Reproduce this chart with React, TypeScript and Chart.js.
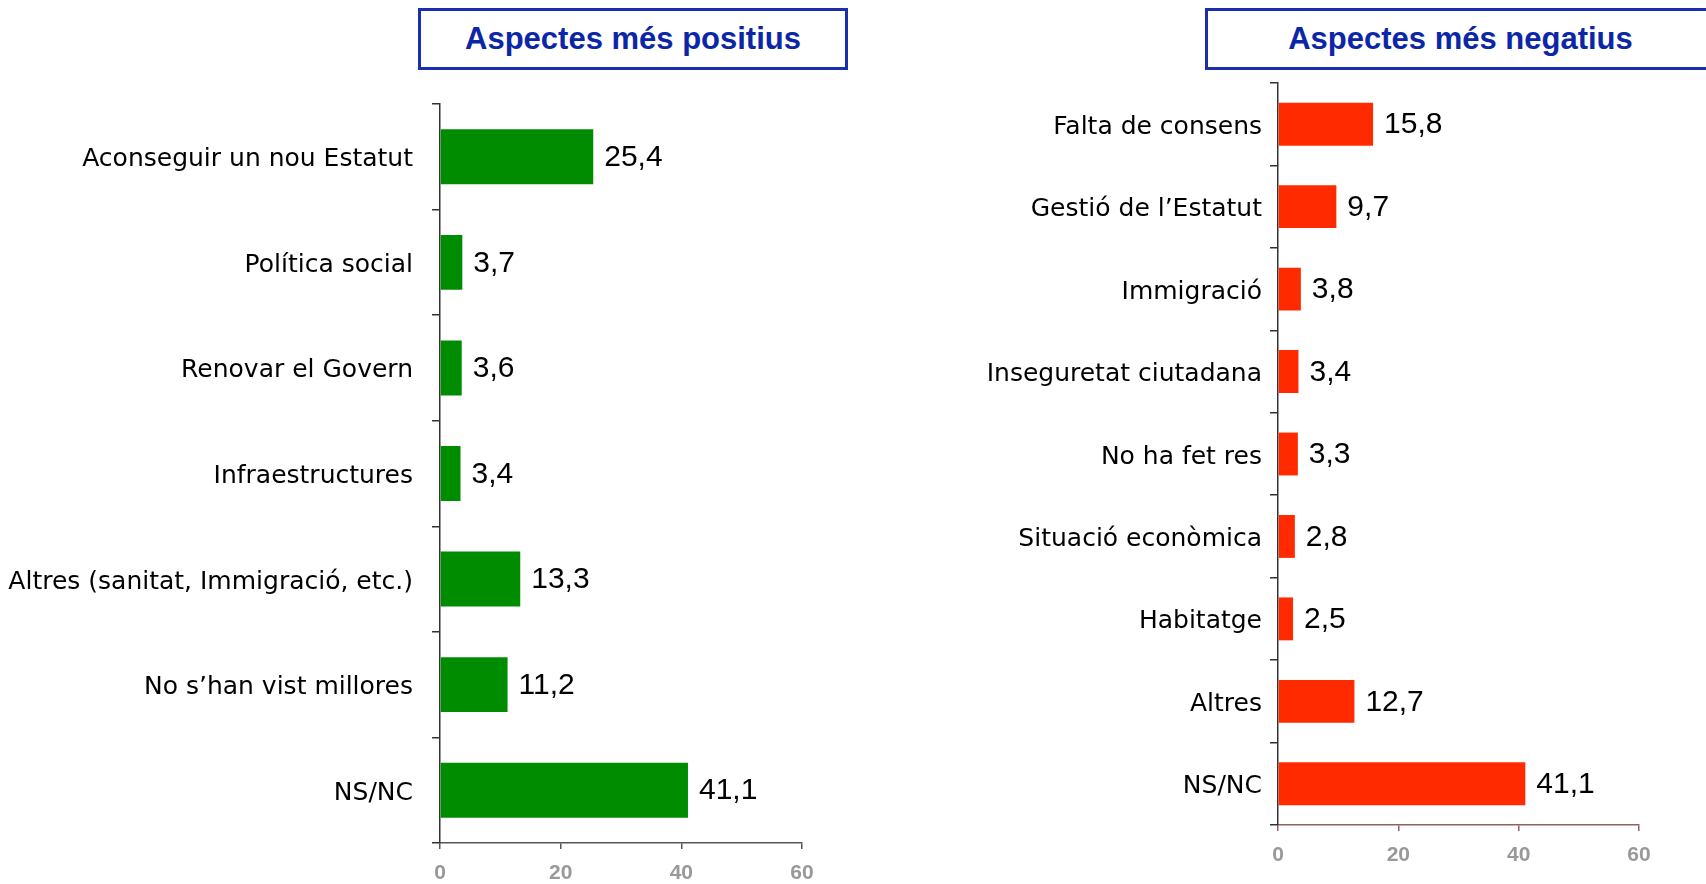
import React, { useEffect, useRef } from "react";
import { Chart, registerables } from "chart.js";

Chart.register(...registerables);

const positiveLabels = [
  "Aconseguir un nou Estatut",
  "Política social",
  "Renovar el Govern",
  "Infraestructures",
  "Altres (sanitat, Immigració, etc.)",
  "No s’han vist millores",
  "NS/NC",
];
const positiveValues = [25.4, 3.7, 3.6, 3.4, 13.3, 11.2, 41.1];

const negativeLabels = [
  "Falta de consens",
  "Gestió de l’Estatut",
  "Immigració",
  "Inseguretat ciutadana",
  "No ha fet res",
  "Situació econòmica",
  "Habitatge",
  "Altres",
  "NS/NC",
];
const negativeValues = [15.8, 9.7, 3.8, 3.4, 3.3, 2.8, 2.5, 12.7, 41.1];

const xTickMin = 0;
const xTickMax = 60;
const xTickStep = 20;

const FONT = "'Liberation Sans', Arial, Helvetica, sans-serif";
const LABEL_FONT = "'DejaVu Sans', 'Liberation Sans', sans-serif";

const valuePlugin = {
  id: "values",
  afterDatasetsDraw(chart: any) {
    const ctx = chart.ctx;
    ctx.save();
    ctx.font = `30px ${FONT}`;
    ctx.fillStyle = "#000";
    ctx.textAlign = "left";
    ctx.textBaseline = "middle";
    chart.data.datasets.forEach((ds: any, di: number) => {
      const meta = chart.getDatasetMeta(di);
      meta.data.forEach((el: any, i: number) => {
        const v = ds.data[i] as number;
        ctx.fillText(v.toFixed(1).replace(".", ","), el.x + 11, el.y + 1);
      });
    });
    ctx.restore();
  },
};

type PanelProps = {
  labels: string[];
  values: number[];
  color: string;
  left: number;
  top: number;
  width: number;
  height: number;
  yAxisWidth: number;
  xAxisHeight: number;
  padTop: number;
  padRight: number;
  labelPad: number;
  xAxisColor: string;
};

function BarPanel(p: PanelProps) {
  const ref = useRef<HTMLCanvasElement | null>(null);
  useEffect(() => {
    if (!ref.current) return;
    const chart = new Chart(ref.current, {
      type: "bar",
      data: {
        labels: p.labels,
        datasets: [
          {
            data: p.values,
            backgroundColor: p.color,
            borderWidth: 0,
            barPercentage: 0.52,
            categoryPercentage: 1,
          },
        ],
      },
      options: {
        indexAxis: "y",
        responsive: false,
        animation: false,
        events: [],
        layout: {
          padding: { left: 0, right: p.padRight, top: p.padTop, bottom: 0 },
        },
        plugins: {
          legend: { display: false },
          tooltip: { enabled: false },
          title: { display: false },
        },
        scales: {
          x: {
            min: xTickMin,
            max: xTickMax,
            afterFit: (s: any) => {
              s.height = p.xAxisHeight;
              s.paddingLeft = 0;
              s.paddingRight = 0;
            },
            ticks: {
              stepSize: xTickStep,
              color: "#999999",
              font: { family: FONT, size: 21, weight: "bold" },
              padding: 12,
            },
            grid: {
              drawOnChartArea: false,
              drawTicks: true,
              tickLength: 6,
              color: p.xAxisColor,
              lineWidth: 1.5,
            },
            border: { display: true, color: p.xAxisColor, width: 1.5 },
          },
          y: {
            afterFit: (s: any) => {
              s.width = p.yAxisWidth;
              s.paddingTop = 0;
              s.paddingBottom = 0;
            },
            ticks: {
              color: "#000",
              font: { family: LABEL_FONT, size: 25 },
              padding: p.labelPad,
              labelOffset: 3,
              autoSkip: false,
            },
            grid: {
              offset: true,
              drawOnChartArea: false,
              drawTicks: true,
              tickLength: 8,
              color: "#333",
              lineWidth: 1.5,
            },
            border: { display: true, color: "#333", width: 1.5 },
          },
        },
      } as any,
      plugins: [valuePlugin],
    });
    return () => chart.destroy();
  }, []);
  return (
    <canvas
      ref={ref}
      width={p.width}
      height={p.height}
      style={{
        position: "absolute",
        left: p.left,
        top: p.top,
        width: p.width,
        height: p.height,
      }}
    />
  );
}

const titleStyle = (left: number, width: number): React.CSSProperties => ({
  position: "absolute",
  left,
  top: 8,
  width,
  height: 62,
  boxSizing: "border-box",
  border: "3px solid #1a2fae",
  display: "flex",
  alignItems: "center",
  justifyContent: "center",
  fontFamily: FONT,
  fontWeight: "bold",
  fontSize: 31,
  color: "#0c26a8",
  whiteSpace: "nowrap",
});

export default function App() {
  return (
    <div
      style={{
        position: "absolute",
        left: 0,
        top: 0,
        width: 1706,
        height: 884,
        overflow: "hidden",
        background: "#fff",
      }}
    >
      <div style={titleStyle(418, 430)}>Aspectes més positius</div>
      <div style={titleStyle(1205, 511)}>Aspectes més negatius</div>
      <BarPanel
        labels={positiveLabels}
        values={positiveValues}
        color="#008c00"
        left={0}
        top={90}
        width={860}
        height={794}
        yAxisWidth={440}
        xAxisHeight={41}
        padTop={14}
        padRight={58}
        labelPad={19}
        xAxisColor="#555"
      />
      <BarPanel
        labels={negativeLabels}
        values={negativeValues}
        color="#ff2a00"
        left={860}
        top={70}
        width={846}
        height={796}
        yAxisWidth={418}
        xAxisHeight={41}
        padTop={13}
        padRight={67}
        labelPad={8}
        xAxisColor="#8c6464"
      />
    </div>
  );
}
